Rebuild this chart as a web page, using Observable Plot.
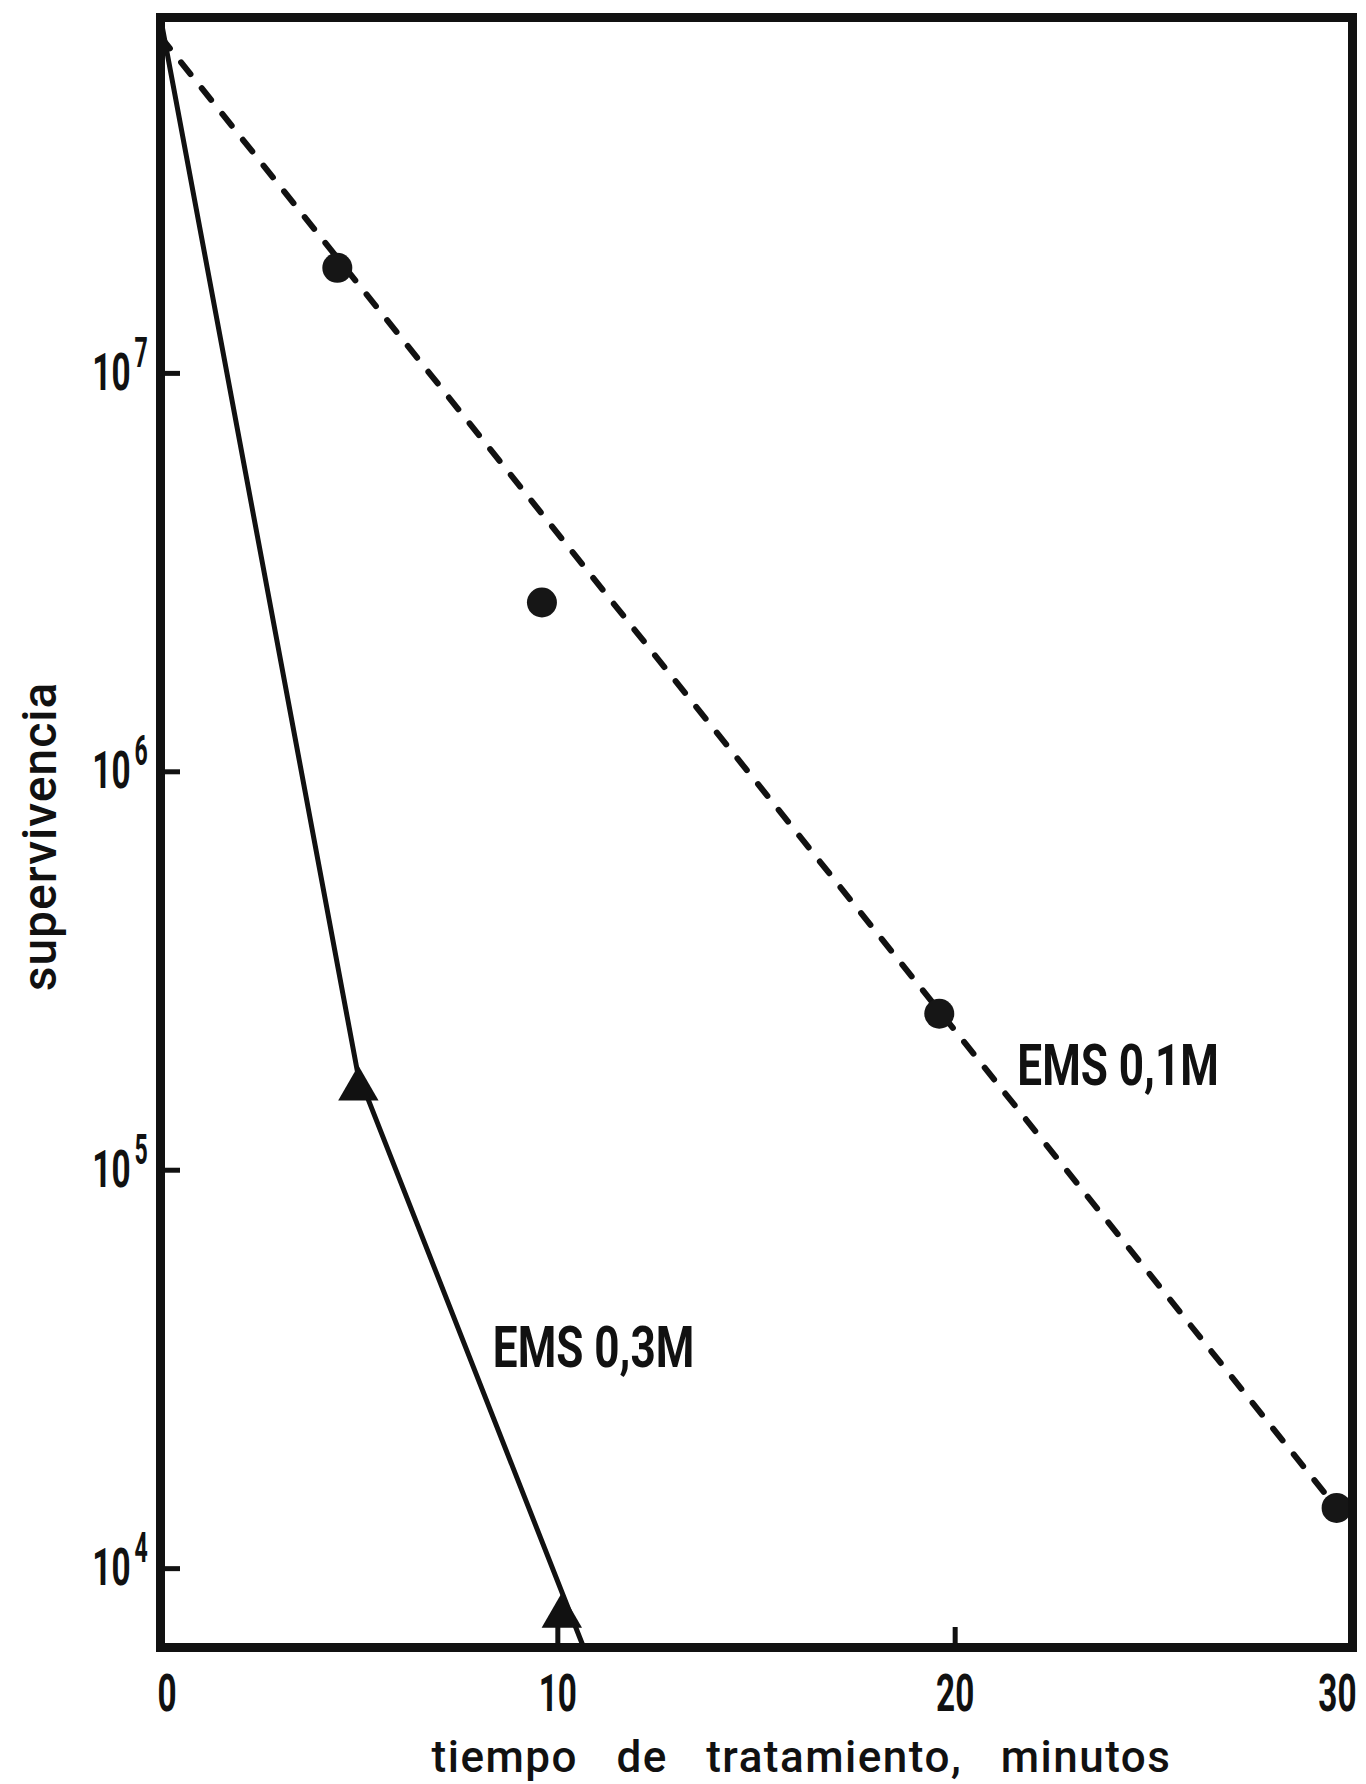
<!DOCTYPE html>
<html><head><meta charset="utf-8">
<script src="https://cdn.jsdelivr.net/npm/d3@7"></script>
<script src="https://cdn.jsdelivr.net/npm/@observablehq/plot@0.6"></script>
<style>
html,body{margin:0;padding:0;background:#fff;}
#chart svg{display:block;}
</style></head><body><div id="chart"></div>
<script>
// ---- Data ----
const circleT = [4.45, 9.6, 19.6, 29.6];          // EMS 0,1M (circles)
const circleV = [1.84e7, 2.66e6, 2.47e5, 1.42e4];
const dashedT = [0, 29.6];                         // fitted dashed line
const dashedV = [7.0e7, 1.42e4];
const triangleT = [4.98, 10.1];                    // EMS 0,3M (triangles)
const triangleV = [1.6e5, 7.6e3];
const solidT = [0, 4.96, 10.65];                   // solid curve
const solidV = [7.82e7, 1.76e5, 6.34e3];
const seriesLabels = ["EMS 0,1M", "EMS 0,3M"];
const labelT = [24.1, 10.9];
const labelV = [1.82e5, 3.56e4];
const xTicks = [0, 10, 20, 30];
const xInnerTicks = [10, 20];
const yTicks = [1e7, 1e6, 1e5, 1e4];
const yTickBase = ["10", "10", "10", "10"];
const yTickExp = ["7", "6", "5", "4"];
const xDomain = [0, 30];
const yDomain = [6.34e3, 7.82e7];
const xTitle = "tiempo de tratamiento, minutos";
const yTitle = "supervivencia";

const ink = "#111";
const zip = (T, V) => T.map((t, i) => ({t, v: V[i]}));
const circles = zip(circleT, circleV);
const dashed = zip(dashedT, dashedV);
const triangles = zip(triangleT, triangleV);
const solid = zip(solidT, solidV);
const labels = seriesLabels.map((s, i) => ({s, t: labelT[i], v: labelV[i]}));
const xFirst = xTicks.slice(0, 1), xMid = xTicks.slice(1, -1), xLast = xTicks.slice(-1);
const xLab = {x: d => d, text: d => String(d), frameAnchor: "bottom", lineAnchor: "top", dy: 27, fontSize: 52, fontWeight: "bold", fill: ink};

const plot = Plot.plot({
  width: 1366, height: 1784,
  marginTop: 17, marginBottom: 137, marginLeft: 160, marginRight: 14,
  style: {fontFamily: "Roboto, 'DejaVu Sans', sans-serif", color: ink, background: "#fff"},
  x: {domain: xDomain},
  y: {type: "log", domain: yDomain},
  marks: [
    Plot.line(dashed, {x: "t", y: "v", stroke: ink, strokeWidth: 6, strokeDasharray: "15,18", strokeLinecap: "round"}),
    Plot.line(solid, {x: "t", y: "v", stroke: ink, strokeWidth: 5, strokeLinejoin: "round"}),
    Plot.dot(circles, {x: "t", y: "v", r: 15, fill: "#161616"}),
    Plot.dot(triangles, {x: "t", y: "v", symbol: "triangle", r: 15, fill: ink}),
    Plot.frame({stroke: ink, strokeWidth: 9}),
    Plot.axisY({ticks: yTicks, tickSize: -20, strokeWidth: 5, tickFormat: () => "", label: null}),
    Plot.text(yTicks, {y: d => d, frameAnchor: "left", dx: -30, textAnchor: "end", lineAnchor: "middle", text: (d, i) => yTickBase[i], fontSize: 52, fontWeight: "bold", fill: ink}),
    Plot.text(yTicks, {y: d => d, frameAnchor: "left", dx: -26, dy: -20, textAnchor: "start", lineAnchor: "middle", text: (d, i) => yTickExp[i], fontSize: 42, fontWeight: "bold", fill: ink}),
    Plot.axisX({ticks: xInnerTicks, tickSize: -20, strokeWidth: 5, tickFormat: () => "", label: null}),
    Plot.text(xFirst, {...xLab, textAnchor: "start", dx: -3}),
    Plot.text(xMid, {...xLab, textAnchor: "middle"}),
    Plot.text(xLast, {...xLab, textAnchor: "end", dx: 4}),
    Plot.text(labels, {x: "t", y: "v", text: "s", fontSize: 58, fontWeight: "bold", fill: ink}),
    Plot.text([xTitle], {frameAnchor: "bottom", textAnchor: "middle", lineAnchor: "middle", dx: 45, dy: 110, fontSize: 44, fontWeight: 500, fill: ink}),
    Plot.text([yTitle], {frameAnchor: "left", textAnchor: "middle", lineAnchor: "middle", rotate: -90, dx: -120, dy: 4, fontSize: 48, fontWeight: 500, fill: ink})
  ]
});

// condensed lettering like the printed original
d3.select(plot).selectAll("text").each(function () {
  const s = this.textContent;
  let k = null;
  if (/^EMS/.test(s)) k = 0.76;
  else if (/^[4-7]$/.test(s)) k = 0.55;
  else if (/^\d+$/.test(s)) k = 0.64;
  if (k) this.setAttribute("transform", (this.getAttribute("transform") || "") + ` scale(${k},1)`);
  if (s === xTitle) { this.style.letterSpacing = "1.5px"; this.style.wordSpacing = "26px"; }
  if (s === yTitle) { this.style.letterSpacing = "1px"; }
});

document.getElementById("chart").appendChild(plot);
</script></body></html>
